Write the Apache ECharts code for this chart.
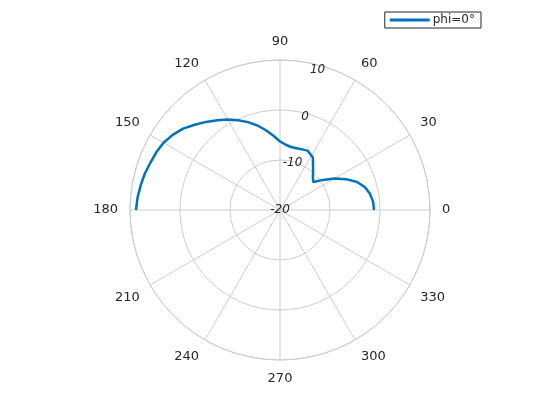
<!DOCTYPE html>
<html>
<head>
<meta charset="utf-8">
<script src="https://cdn.jsdelivr.net/npm/echarts@6/dist/echarts.min.js"></script>
<style>
  html, body { margin: 0; padding: 0; background: #fff; }
  #main { width: 560px; height: 420px; }
</style>
</head>
<body>
<div id="main"></div>
<script>
// angle in degrees, gain in dB
var angles = [0, 5, 10, 15, 20, 25, 30, 35, 40, 45, 50, 55, 58, 60, 65, 70, 75, 80, 85,
              90, 95, 100, 105, 110, 115, 120, 125, 130, 135, 140, 145, 150, 155, 160,
              165, 170, 175, 180];
var gain = [-1.2, -1.3, -1.7, -2.4, -3.6, -5.4, -7.4, -9.5, -11.3, -10.7, -9.7, -8.5, -7.6, -7.4,
            -6.9, -7.1, -7.2, -7.2, -6.9, -6.3, -5.1, -3.8, -2.5, -1.3, -0.2, 0.9, 1.9, 3.0,
            4.1, 5.3, 6.2, 6.9, 7.3, 7.6, 8.0, 8.3, 8.6, 8.8];
var seriesName = 'phi=0°';
var rMin = -20, rMax = 10, rStep = 10;
var thetaStep = 30;

var lineData = [];
for (var i = 0; i < angles.length; i++) {
    lineData.push([gain[i], angles[i]]);
}

var gridColor = '#cccccc';
var textColor = '#262626';
var font = 'DejaVu Sans';

var chart = echarts.init(document.getElementById('main'));
chart.setOption({
    animation: false,
    legend: {
        data: [{ name: seriesName, icon: 'rect' }],
        right: 79,
        top: 12,
        padding: [2, 6, 2, 5],
        itemWidth: 40,
        itemHeight: 3,
        itemGap: 4,
        borderColor: '#262626',
        borderWidth: 1,
        borderRadius: 0,
        textStyle: { fontFamily: font, fontSize: 12, color: textColor, padding: [0, 0, 0, -2] }
    },
    polar: [
        { center: [280, 210], radius: 150 },
        { center: [280, 210], radius: 145 }
    ],
    angleAxis: [{
        polarIndex: 0,
        type: 'value',
        min: 0,
        max: 360,
        interval: thetaStep,
        startAngle: 0,
        clockwise: false,
        axisLine: { lineStyle: { color: gridColor, width: 1 } },
        axisTick: { show: false },
        axisLabel: {
            margin: 12,
            align: 'center',
            verticalAlign: 'middle',
            color: textColor,
            fontFamily: font,
            fontSize: 13,
            formatter: function (v) { return v === 360 ? '' : String(v); }
        },
        splitLine: { lineStyle: { color: gridColor, width: 1 } }
    }, {
        polarIndex: 1,
        type: 'value',
        min: 0,
        max: 360,
        startAngle: 75,
        clockwise: false,
        show: false
    }],
    radiusAxis: [{
        polarIndex: 0,
        type: 'value',
        min: rMin,
        max: rMax,
        interval: rStep,
        axisLine: { show: false },
        axisTick: { show: false },
        axisLabel: { show: false },
        splitLine: { lineStyle: { color: gridColor, width: 1 } }
    }, {
        polarIndex: 1,
        type: 'value',
        min: rMin,
        max: rMax,
        interval: rStep,
        axisLine: { show: false },
        axisTick: { show: false },
        splitLine: { show: false },
        axisLabel: {
            margin: 0,
            align: 'center',
            verticalAlign: 'middle',
            color: textColor,
            fontFamily: font,
            fontSize: 12,
            fontStyle: 'italic'
        }
    }],
    series: [{
        name: seriesName,
        type: 'line',
        coordinateSystem: 'polar',
        polarIndex: 0,
        showSymbol: false,
        symbol: 'none',
        smooth: false,
        lineStyle: { color: '#0072BD', width: 2.5 },
        itemStyle: { color: '#0072BD' },
        data: lineData
    }]
});
</script>
</body>
</html>
